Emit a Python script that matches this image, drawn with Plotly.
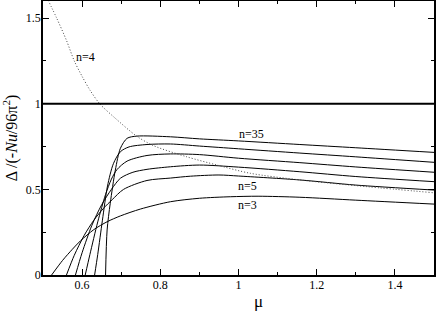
import plotly.graph_objects as go

# n=3
mu_n3 = [0.522, 0.55, 0.575, 0.596, 0.63, 0.664, 0.698, 0.749, 0.826, 0.9, 0.979, 1.05, 1.157, 1.3, 1.5]
d_n3 = [0.0, 0.085, 0.15, 0.20, 0.265, 0.311, 0.345, 0.385, 0.428, 0.448, 0.457, 0.46, 0.454, 0.437, 0.414]
# n=5
mu_n5 = [0.560, 0.58, 0.605, 0.63, 0.655, 0.677, 0.706, 0.766, 0.826, 0.877, 0.95, 1.0, 1.157, 1.3, 1.5]
d_n5 = [0.0, 0.115, 0.23, 0.32, 0.39, 0.44, 0.50, 0.552, 0.566, 0.577, 0.584, 0.578, 0.555, 0.525, 0.496]
# intermediate n
mu_c3 = [0.583, 0.60, 0.625, 0.65, 0.675, 0.698, 0.73, 0.766, 0.826, 0.9, 1.0, 1.157, 1.3, 1.5]
d_c3 = [0.0, 0.13, 0.29, 0.41, 0.50, 0.565, 0.60, 0.617, 0.632, 0.642, 0.630, 0.603, 0.575, 0.545]
mu_c4 = [0.608, 0.62, 0.64, 0.66, 0.675, 0.689, 0.715, 0.766, 0.826, 0.9, 1.0, 1.157, 1.3, 1.5]
d_c4 = [0.0, 0.12, 0.31, 0.47, 0.56, 0.615, 0.665, 0.698, 0.707, 0.703, 0.682, 0.656, 0.631, 0.600]
mu_c5 = [0.632, 0.640, 0.652, 0.665, 0.68, 0.698, 0.72, 0.766, 0.826, 0.9, 1.0, 1.157, 1.3, 1.5]
d_c5 = [0.0, 0.12, 0.32, 0.52, 0.65, 0.72, 0.748, 0.762, 0.765, 0.753, 0.737, 0.712, 0.690, 0.658]
# n=35
mu_n35 = [0.660, 0.664, 0.672, 0.685, 0.698, 0.715, 0.740, 0.826, 0.9, 1.0, 1.157, 1.3, 1.5]
d_n35 = [0.0, 0.263, 0.419, 0.613, 0.74, 0.798, 0.811, 0.807, 0.795, 0.783, 0.762, 0.743, 0.716]
# n=4 (dotted)
mu_n4 = [0.513, 0.535, 0.56, 0.58, 0.60, 0.62, 0.645, 0.685, 0.74, 0.783, 0.868, 0.945, 1.03, 1.157, 1.328, 1.5]
d_n4 = [1.605, 1.50, 1.37, 1.25, 1.16, 1.08, 1.0, 0.915, 0.81, 0.755, 0.69, 0.642, 0.594, 0.555, 0.516, 0.48]
# reference line
mu_ref = [0.5, 1.5]
d_ref = [1.0, 1.0]

solid = [(mu_n3, d_n3), (mu_n5, d_n5), (mu_c3, d_c3), (mu_c4, d_c4), (mu_c5, d_c5), (mu_n35, d_n35)]

fig = go.Figure()
for xs, ys in solid:
    fig.add_trace(go.Scatter(x=xs, y=ys, mode="lines", line=dict(color="black", width=1, shape="spline", smoothing=0.8),
                             showlegend=False, hoverinfo="skip"))
fig.add_trace(go.Scatter(x=mu_n4, y=d_n4, mode="lines", line=dict(color="#444444", width=1, dash="1px,2px", shape="spline", smoothing=0.8),
                         showlegend=False, hoverinfo="skip"))
fig.add_trace(go.Scatter(x=mu_ref, y=d_ref, mode="lines", line=dict(color="black", width=2),
                         showlegend=False, hoverinfo="skip"))

font = "Liberation Serif"
labels = [("n=35", 1.032, 0.823), ("n=5", 1.022, 0.520), ("n=3", 1.022, 0.409), ("n=4", 0.609, 1.273)]
for t, x, y in labels:
    fig.add_annotation(x=x, y=y, text=t, showarrow=False, font=dict(family=font, size=12, color="black"))

# x-axis title placed just below the tick labels
fig.add_annotation(x=0.55, y=0, xref="paper", yref="paper", text="μ", showarrow=False,
                   yanchor="middle", yshift=-26, font=dict(family=font, size=17, color="black"))

axis_common = dict(showline=True, linecolor="black", linewidth=1.5, mirror="ticks", ticks="inside",
                   ticklen=6, tickwidth=1, tickcolor="black", showgrid=False, zeroline=False,
                   automargin=False, tickfont=dict(family=font, size=12, color="black"))

fig.update_xaxes(range=[0.5, 1.5], tick0=0.6, dtick=0.2, ticklabelstandoff=-2,
                 minor=dict(ticks="inside", ticklen=3, tickcolor="black", dtick=0.1, tick0=0.5, showgrid=False),
                 **axis_common)
fig.update_yaxes(range=[0, 1.6], tick0=0, dtick=0.5, ticklabelstandoff=-2,
                 minor=dict(ticks="inside", ticklen=3, tickcolor="black", dtick=0.25, tick0=0, showgrid=False),
                 title=dict(text="Δ /(-<i>Nu</i>/96π<sup>2</sup>)", font=dict(family=font, size=16, color="black")),
                 **axis_common)

fig.update_layout(width=436, height=314, margin=dict(l=43, r=2, t=1, b=39),
                  font=dict(family=font, color="black"),
                  plot_bgcolor="white", paper_bgcolor="white")

fig.write_html("out.html", config={"displayModeBar": False},
               post_script="document.body.style.margin='0';document.body.style.padding='0';")
